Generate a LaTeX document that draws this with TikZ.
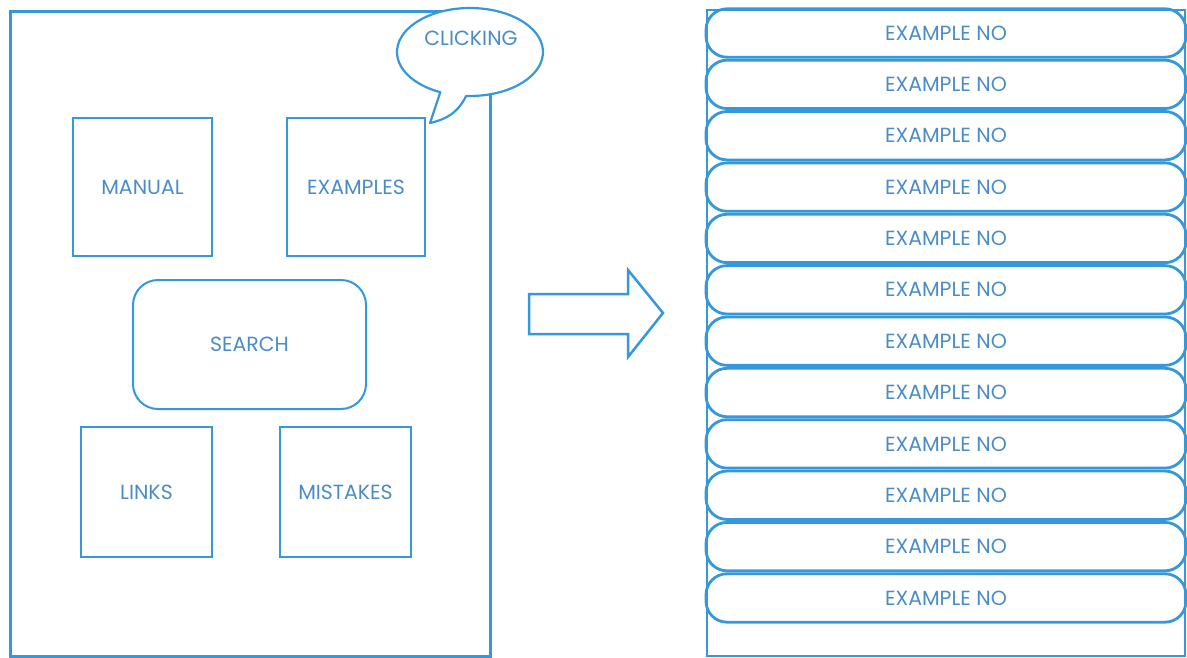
\documentclass[tikz,border=0pt]{standalone}
\usepackage{fontspec}
\setmainfont{Poppins}
\usetikzlibrary{calc}
\begin{document}
\begin{tikzpicture}[x=1pt,y=-1pt,
  ln/.style={draw=lineblue},
  lbl/.style={text=textblue,font=\fontsize{20.5}{22}\selectfont},
  sq/.style={ln,line width=2pt,lbl,inner sep=0pt},
  stad/.style={ln,line width=2.8pt,rounded corners=21pt,minimum width=480pt,minimum height=48.4pt,inner sep=0pt,lbl}]
\definecolor{lineblue}{RGB}{52,152,219}
\definecolor{textblue}{RGB}{74,140,200}
\useasboundingbox (0,0) rectangle (1187,657);
% left panel
\node[ln,line width=3pt,minimum width=480pt,minimum height=645pt,inner sep=0pt] (panel) at (250,333.5) {};
\node[sq,minimum width=139pt,minimum height=138pt] (manual) at (142.5,187) {MANUAL};
\node[sq,minimum width=138pt,minimum height=138pt] (examples) at (356,187) {EXAMPLES};
\node[sq,rounded corners=25pt,minimum width=233pt,minimum height=129pt] (search) at (249.5,344.5) {SEARCH};
\node[sq,minimum width=131pt,minimum height=130pt] (links) at (146.5,492) {LINKS};
\node[sq,minimum width=131pt,minimum height=130pt] (mistakes) at (345.5,492) {MISTAKES};
% speech bubble
\coordinate (bc) at (470,52);
\coordinate (tip) at (430,123);
\draw[lineblue,line width=2.2pt,fill=white,line join=round]
  ($(bc)+(93:73 and 44)$) arc[start angle=93,end angle=-246,x radius=73,y radius=44]
  -- (tip) .. controls (452,118) and (460,108) .. cycle;
\node[lbl] (clicking) at (471,38) {CLICKING};
% block arrow
\draw[lineblue,line width=2.5pt,line join=miter]
  (529,294) -- (628,294) -- (628,270) -- (663,313) -- (628,357) -- (628,334) -- (529,334) -- cycle;
% right panel
\node[ln,line width=1.5pt,minimum width=478pt,minimum height=646pt,inner sep=0pt] (list) at (946,333) {};
\foreach \i in {0,...,11}{
  \node[stad] (e\i) at (946,{33+51.36*\i}) {EXAMPLE NO};
}
\end{tikzpicture}
\end{document}
